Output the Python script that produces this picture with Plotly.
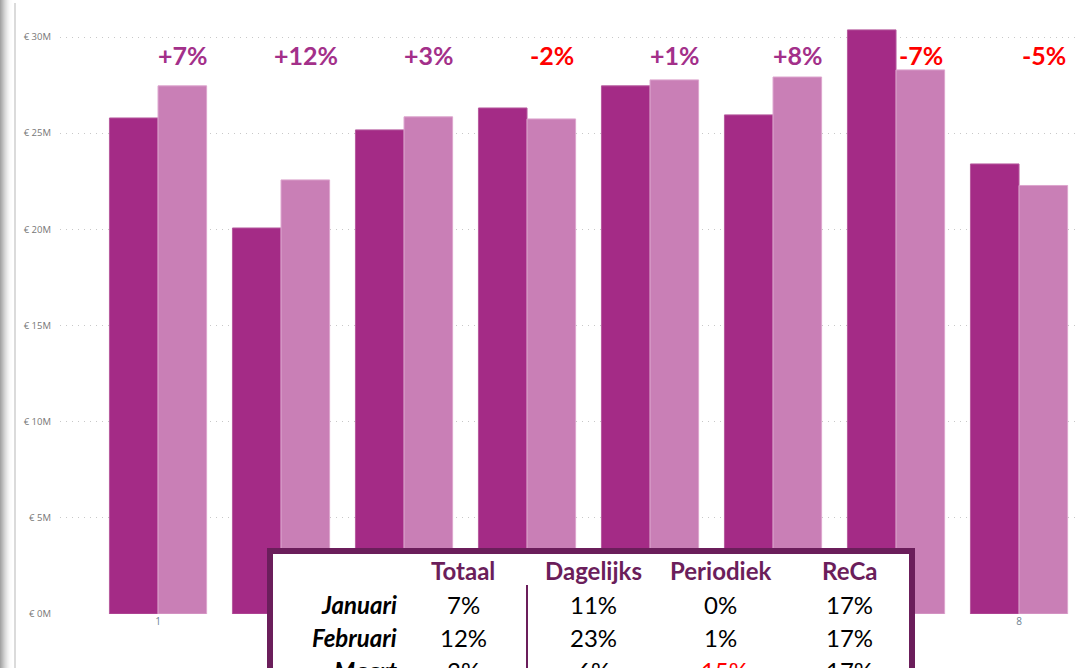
import plotly.graph_objects as go

# ---- data ----
groups = [1, 2, 3, 4, 5, 6, 7, 8]
prev_year = [25.79, 20.07, 25.17, 26.31, 27.46, 25.95, 30.37, 23.40]
this_year = [27.46, 22.57, 25.85, 25.74, 27.77, 27.92, 28.29, 22.28]
change_pct = [7, 12, 3, -2, 1, 8, -7, -5]
y_ticks = [0, 5, 10, 15, 20, 25, 30]
y_tick_labels = ["€ 0M", "€ 5M", "€ 10M", "€ 15M", "€ 20M", "€ 25M", "€ 30M"]

table_cols = ["Totaal", "Dagelijks", "Periodiek", "ReCa"]
table_rows = ["Januari", "Februari", "Maart"]
table_vals = [[7, 11, 0, 17], [12, 23, 1, 17], [3, 6, -15, 17]]

# ---- geometry helpers (pixel -> paper) ----
W, H = 1075, 668
ML, MR, MT, MB = 60, 0, 0, 54
PW, PH = W - ML - MR, H - MT - MB


def px(x):
    return (x - ML) / PW


def py(y):
    return (H - MB - y) / PH


DARK = "#A42B86"
LIGHT = "#C97FB6"
PURPLE = "#6B1E5B"
POS = "#A3308A"
NEG = "#FF0000"

fig = go.Figure()
fig.add_trace(go.Bar(x=groups, y=prev_year, marker=dict(color=DARK, line=dict(color="#B65A9E", width=1)),
                     name="Vorig jaar"))
fig.add_trace(go.Bar(x=groups, y=this_year, marker=dict(color=LIGHT, line=dict(color="#DDA6CE", width=1)),
                     name="Dit jaar"))

annotations = []
for g, c in zip(groups, change_pct):
    annotations.append(dict(
        x=g + 0.2, y=py(55), xref="x", yref="paper", showarrow=False,
        text=f"{'+' if c > 0 else ''}{c}%",
        font=dict(family="Lato, Open Sans, sans-serif", size=25, color=POS if c > 0 else NEG, weight=700),
        xanchor="center", yanchor="middle"))

# table
col_x = [463, 593, 720, 849]
row_y = [604, 637, 670]
for cx, name in zip(col_x, table_cols):
    annotations.append(dict(x=px(cx), y=py(570), xref="paper", yref="paper", showarrow=False,
                            text=name, xanchor="center", yanchor="middle",
                            font=dict(family="Lato, Open Sans, sans-serif", size=24, color=PURPLE, weight=700)))
for ry, rname, vals in zip(row_y, table_rows, table_vals):
    annotations.append(dict(x=px(399), y=py(ry), xref="paper", yref="paper", showarrow=False,
                            text=f"<i>{rname}</i>", xanchor="right", yanchor="middle",
                            font=dict(family="Lato, Open Sans, sans-serif", size=24, color="black", weight=700)))
    for cx, v in zip(col_x, vals):
        annotations.append(dict(x=px(cx), y=py(ry), xref="paper", yref="paper", showarrow=False,
                                text=f"{v}%", xanchor="center", yanchor="middle",
                                font=dict(family="Lato, Open Sans, sans-serif", size=24,
                                          color=NEG if v < 0 else "black")))

shapes = []
# left shadow / frame
for i, op in enumerate([0.55, 0.48, 0.41, 0.34, 0.27, 0.21, 0.16, 0.11, 0.07, 0.04, 0.02, 0.01]):
    shapes.append(dict(type="rect", xref="paper", yref="paper", x0=px(i), x1=px(i + 1), y0=py(H), y1=py(0),
                       fillcolor=f"rgba(90,90,90,{op})", line=dict(width=0), layer="above"))
shapes.append(dict(type="line", xref="paper", yref="paper", x0=px(15), x1=px(15), y0=py(H), y1=py(3),
                   line=dict(color="#CFCFCF", width=1.5), layer="above"))
# table box
shapes.append(dict(type="rect", xref="paper", yref="paper", x0=px(270), x1=px(912), y0=py(720), y1=py(551),
                   fillcolor="white", line=dict(color=PURPLE, width=6), layer="above"))
shapes.append(dict(type="line", xref="paper", yref="paper", x0=px(527), x1=px(527), y0=py(720), y1=py(585),
                   line=dict(color=PURPLE, width=2), layer="above"))

fig.update_layout(
    width=W, height=H, margin=dict(l=ML, r=MR, t=MT, b=MB),
    paper_bgcolor="white", plot_bgcolor="white",
    barmode="group", bargap=0.21, bargroupgap=0,
    showlegend=False,
    annotations=annotations, shapes=shapes,
    xaxis=dict(range=[0.203, 8.455], tickvals=groups, ticktext=[str(g) for g in groups],
               showgrid=False, zeroline=False, showline=False, ticks="",
               tickfont=dict(family="Open Sans, sans-serif", size=10, color="#6E7F90")),
    yaxis=dict(range=[0, (H - MB) / ((H - MB - 37) / 30)], tickvals=y_ticks, ticktext=y_tick_labels,
               showgrid=True, gridcolor="#C8C8C8", griddash="1px,5px", gridwidth=1,
               zeroline=False, showline=False, ticks="", ticklabelstandoff=8,
               tickfont=dict(family="Open Sans, sans-serif", size=9.5, color="#777777")),
)

fig.write_html("out.html", config={"displayModeBar": False},
               post_script="document.body.style.margin='0';document.body.style.overflow='hidden';")
